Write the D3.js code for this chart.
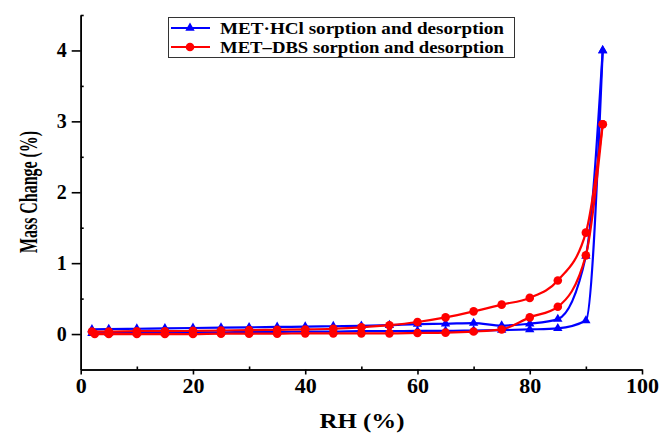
<!DOCTYPE html>
<html>
<head>
<meta charset="utf-8">
<script src="https://cdn.jsdelivr.net/npm/d3@7"></script>
<style>
  body { margin: 0; background: #fff; }
  svg { display: block; }
  text { font-family: "Liberation Serif", "Times New Roman", serif; font-weight: bold; }
</style>
</head>
<body>
<div id="chart"></div>
<script>
// MET·HCl (blue, triangles)
const hclSorpRH = [2, 5, 10, 15, 20, 25, 30, 35, 40, 45, 50, 55, 60, 65, 70, 75, 80, 85, 90, 93];
const hclSorp = [0.01, 0.015, 0.02, 0.02, 0.025, 0.025, 0.03, 0.03, 0.035, 0.035, 0.04, 0.04, 0.045, 0.045, 0.05, 0.055, 0.065, 0.08, 0.19, 4.0];
const hclDesorpRH = [93, 90, 85, 80, 75, 70, 65, 60, 55, 50, 45, 40, 35, 30, 25, 20, 15, 10, 5, 2];
const hclDesorp = [4.0, 1.1, 0.21, 0.145, 0.12, 0.155, 0.145, 0.14, 0.125, 0.115, 0.11, 0.105, 0.1, 0.095, 0.09, 0.085, 0.08, 0.075, 0.07, 0.065];

// MET–DBS (red, circles)
const dbsSorpRH = [2.5, 5, 10, 15, 20, 25, 30, 35, 40, 45, 50, 55, 60, 65, 70, 75, 80, 85, 90, 93];
const dbsSorp = [0.0, 0.0, 0.0, 0.0, 0.0, 0.005, 0.005, 0.005, 0.01, 0.01, 0.01, 0.01, 0.015, 0.02, 0.035, 0.065, 0.235, 0.385, 1.11, 2.96];
const dbsDesorpRH = [93, 90, 85, 80, 75, 70, 65, 60, 55, 50, 45, 40, 35, 30, 25, 20, 15, 10, 5, 2];
const dbsDesorp = [2.96, 1.43, 0.755, 0.51, 0.415, 0.32, 0.235, 0.17, 0.125, 0.095, 0.075, 0.065, 0.06, 0.055, 0.05, 0.045, 0.04, 0.04, 0.035, 0.035];

const xTicks = [0, 20, 40, 60, 80, 100];
const xMinor = [10, 30, 50, 70, 90];
const yTicks = [0, 1, 2, 3, 4];
const yMinor = [0.5, 1.5, 2.5, 3.5, 4.5];

const legendLabels = ['MET\u00B7HCl sorption and desorption', 'MET\u2013DBS sorption and desorption'];

const W = 662, H = 434;
const svg = d3.select('#chart').append('svg')
  .attr('width', W)
  .attr('height', H);

const x = d3.scaleLinear().domain([0, 100]).range([80.7, 642]);
const y = d3.scaleLinear().domain([-0.5, 4.5]).range([369.5, 15]);

// axes
const gx = svg.append('g').attr('transform', `translate(0,${y(-0.5)})`);
gx.call(d3.axisBottom(x).tickValues(xMinor).tickSize(-3).tickSizeOuter(0).tickFormat(''));
gx.append('g').call(d3.axisBottom(x).tickValues(xTicks).tickSize(5).tickSizeOuter(0).tickPadding(4).tickFormat(d3.format('d')));

const gy = svg.append('g').attr('transform', `translate(${x(0)},0)`);
gy.call(d3.axisLeft(y).tickValues(yMinor).tickSize(-3).tickSizeOuter(0).tickFormat(''));
gy.append('g').call(d3.axisLeft(y).tickValues(yTicks).tickSize(9).tickSizeOuter(0).tickPadding(5).tickFormat(d3.format('d')));

svg.selectAll('.domain').attr('stroke', '#000').attr('stroke-width', 1.6);
svg.selectAll('.tick line').attr('stroke', '#000').attr('stroke-width', 1.6);
svg.selectAll('.tick text')
  .attr('fill', '#000')
  .style('font-size', '20px')
  .style('font-family', '"Liberation Serif", serif')
  .style('font-weight', 'bold');
gx.selectAll('.tick text').attr('transform', 'scale(1.1,1)');

// axis titles
svg.append('text')
  .attr('x', 362).attr('y', 428)
  .attr('text-anchor', 'middle')
  .attr('textLength', 85).attr('lengthAdjust', 'spacingAndGlyphs')
  .style('font-size', '21px')
  .text('RH (%)');

svg.append('text')
  .attr('transform', 'translate(37,192) rotate(-90)')
  .attr('text-anchor', 'middle')
  .attr('textLength', 122).attr('lengthAdjust', 'spacingAndGlyphs')
  .style('font-size', '26px')
  .text('Mass Change (%)');

// series
const line = d3.line()
  .x(d => x(d[0]))
  .y(d => y(d[1]))
  .curve(d3.curveMonotoneX);

const zip = (a, b) => a.map((v, i) => [v, b[i]]);
const asc = arr => arr.slice().sort((p, q) => p[0] - q[0]);

const series = [
  { color: '#0000ff', symbol: d3.symbolTriangle, size: 38,
    sorp: zip(hclSorpRH, hclSorp), desorp: zip(hclDesorpRH, hclDesorp) },
  { color: '#ff0000', symbol: d3.symbolCircle, size: 58,
    sorp: zip(dbsSorpRH, dbsSorp), desorp: zip(dbsDesorpRH, dbsDesorp) }
];

series.forEach(s => {
  const g = svg.append('g');
  [s.sorp, s.desorp].forEach(pts => {
    g.append('path')
      .attr('d', line(asc(pts)))
      .attr('fill', 'none')
      .attr('stroke', s.color)
      .attr('stroke-width', 2.2);
  });
  g.selectAll('.pt')
    .data(s.sorp.concat(s.desorp))
    .enter().append('path')
    .attr('class', 'pt')
    .attr('transform', d => `translate(${x(d[0])},${y(d[1])})`)
    .attr('d', d3.symbol().type(s.symbol).size(s.size))
    .attr('fill', s.color);
});

// legend
const lg = svg.append('g');
lg.append('rect')
  .attr('x', 168.5).attr('y', 17.5)
  .attr('width', 346).attr('height', 40)
  .attr('fill', '#fff')
  .attr('stroke', '#333')
  .attr('stroke-width', 1);

series.forEach((s, i) => {
  const yy = 28 + i * 19;
  lg.append('line')
    .attr('x1', 171).attr('x2', 210)
    .attr('y1', yy).attr('y2', yy)
    .attr('stroke', s.color).attr('stroke-width', 2.2);
  lg.append('path')
    .attr('transform', `translate(190,${yy})`)
    .attr('d', d3.symbol().type(s.symbol).size(s.size))
    .attr('fill', s.color);
  lg.append('text')
    .attr('x', 220).attr('y', yy + 5.5)
    .attr('textLength', 284).attr('lengthAdjust', 'spacingAndGlyphs')
    .style('font-size', '16px')
    .text(legendLabels[i]);
});
</script>
</body>
</html>
